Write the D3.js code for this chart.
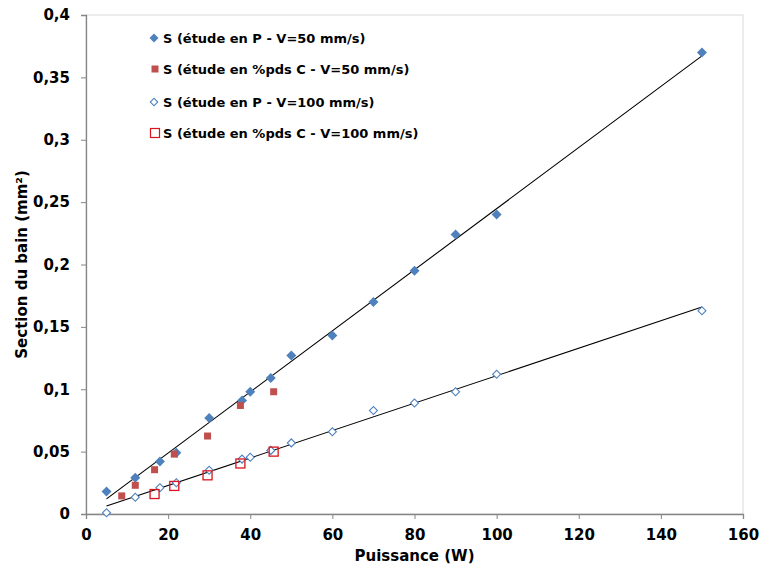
<!DOCTYPE html>
<html>
<head>
<meta charset="utf-8">
<script src="https://cdn.jsdelivr.net/npm/d3@7"></script>
<style>
  html, body { margin: 0; padding: 0; background: #fff; }
  svg { display: block; font-family: "DejaVu Sans", Verdana, sans-serif; font-weight: bold; }
</style>
</head>
<body>
<svg id="chart" width="764" height="574"></svg>
<script>
// ---- Data ----
const seriesNames = [
  "S (étude en P - V=50 mm/s)",
  "S (étude en %pds C - V=50 mm/s)",
  "S (étude en P - V=100 mm/s)",
  "S (étude en %pds C - V=100 mm/s)"
];
const p50P = [5, 12, 18, 22, 30, 38, 40, 45, 50, 60, 70, 80, 90, 100, 150];
const s50P = [0.018, 0.029, 0.042, 0.049, 0.077, 0.091, 0.098, 0.109, 0.127, 0.143, 0.170, 0.195, 0.224, 0.240, 0.370];
const p50C = [8.7, 12, 16.7, 21.5, 29.6, 37.6, 45.7];
const s50C = [0.0145, 0.023, 0.0355, 0.048, 0.0625, 0.087, 0.098];
const p100P = [5, 12, 18, 22, 30, 38, 40, 45, 50, 60, 70, 80, 90, 100, 150];
const s100P = [0.001, 0.0135, 0.021, 0.025, 0.035, 0.044, 0.0455, 0.051, 0.057, 0.066, 0.083, 0.089, 0.098, 0.112, 0.163];
const p100C = [16.7, 21.5, 29.6, 37.6, 45.7];
const s100C = [0.016, 0.0225, 0.031, 0.0405, 0.050];
const xTicks = [0, 20, 40, 60, 80, 100, 120, 140, 160];
const yTicks = [0, 0.05, 0.1, 0.15, 0.2, 0.25, 0.3, 0.35, 0.4];
const xTitle = "Puissance (W)";
const yTitle = "Section du bain (mm²)";

(function () {
// ---- Layout ----
const svg = d3.select("#chart");
const pL = 86, pR = 743, pT = 15, pB = 514;
const x = d3.scaleLinear().domain([0, 160]).range([pL, pR]);
const y = d3.scaleLinear().domain([0, 0.4]).range([pB, pT]);
const blue = "#4f81bd", red = "#c0504d", brightRed = "#d9141c";

// plot area border (light)
svg.append("rect").attr("x", pL).attr("y", pT)
  .attr("width", pR - pL).attr("height", pB - pT)
  .attr("fill", "none").attr("stroke", "#d9d9d9").attr("stroke-width", 1);

const fmt = d => d3.format("")(d).replace(".", ",");

// X axis
const xAxis = svg.append("g").attr("transform", `translate(0,${pB})`)
  .call(d3.axisBottom(x).tickValues(xTicks).tickSize(5).tickPadding(10).tickFormat(fmt));
xAxis.select(".domain").attr("stroke", "#868686").attr("stroke-width", 1.3);
xAxis.selectAll(".tick line").attr("stroke", "#868686");
xAxis.selectAll("text").attr("font-size", 15).attr("font-weight", "bold")
  .attr("font-family", "DejaVu Sans, Verdana, sans-serif").attr("fill", "#000");

// Y axis
const yAxis = svg.append("g").attr("transform", `translate(${pL},0)`)
  .call(d3.axisLeft(y).tickValues(yTicks).tickSize(5).tickPadding(11).tickFormat(fmt));
yAxis.select(".domain").attr("stroke", "#868686").attr("stroke-width", 1.3);
yAxis.selectAll(".tick line").attr("stroke", "#868686");
yAxis.selectAll("text").attr("font-size", 15).attr("font-weight", "bold")
  .attr("font-family", "DejaVu Sans, Verdana, sans-serif").attr("fill", "#000");

// Axis titles
svg.append("text").attr("x", (pL + pR) / 2).attr("y", 561)
  .attr("text-anchor", "middle").attr("font-size", 15).text(xTitle);
svg.append("text").attr("transform", `translate(27,${(pT + pB) / 2}) rotate(-90)`)
  .attr("text-anchor", "middle").attr("font-size", 15).text(yTitle);

// Linear trendlines (least squares on the P-series)
function fit(xs, ys) {
  const mx = d3.mean(xs), my = d3.mean(ys);
  const b = d3.sum(xs, (v, i) => (v - mx) * (ys[i] - my)) / d3.sum(xs, v => (v - mx) ** 2);
  return { a: my - b * mx, b };
}
[[p50P, s50P], [p100P, s100P]].forEach(([xs, ys]) => {
  const f = fit(xs, ys);
  const x0 = d3.min(xs), x1 = d3.max(xs);
  svg.append("line")
    .attr("x1", x(x0)).attr("y1", y(f.a + f.b * x0))
    .attr("x2", x(x1)).attr("y2", y(f.a + f.b * x1))
    .attr("stroke", "#000").attr("stroke-width", 1.1);
});

// Markers
function drawSeries(xs, ys, kind) {
  const g = svg.append("g");
  xs.forEach((xv, i) => {
    const cx = x(xv), cy = y(ys[i]);
    if (kind === 0) {
      g.append("path").attr("d", d3.symbol().type(d3.symbolSquare).size(50)())
        .attr("transform", `translate(${cx},${cy}) rotate(45)`).attr("fill", blue);
    } else if (kind === 1) {
      g.append("rect").attr("x", cx - 3.5).attr("y", cy - 3.5).attr("width", 7).attr("height", 7).attr("fill", red);
    } else if (kind === 2) {
      g.append("path").attr("d", d3.symbol().type(d3.symbolSquare).size(32)())
        .attr("transform", `translate(${cx},${cy}) rotate(45)`)
        .attr("fill", "#fff").attr("stroke", blue).attr("stroke-width", 1.1);
    } else {
      g.append("rect").attr("x", cx - 4.5).attr("y", cy - 4.5).attr("width", 9).attr("height", 9)
        .attr("fill", "none").attr("stroke", brightRed).attr("stroke-width", 1.3);
    }
  });
}
drawSeries(p50P, s50P, 0);
drawSeries(p50C, s50C, 1);
drawSeries(p100P, s100P, 2);
drawSeries(p100C, s100C, 3);

// Legend
const legY = [38, 69, 102, 133];
seriesNames.forEach((name, i) => {
  const mx = 155, my = legY[i];
  if (i === 0) {
    svg.append("path").attr("d", d3.symbol().type(d3.symbolSquare).size(40)())
      .attr("transform", `translate(${mx - 1},${my}) rotate(45)`).attr("fill", blue);
  } else if (i === 1) {
    svg.append("rect").attr("x", mx - 3.5).attr("y", my - 3.5).attr("width", 7).attr("height", 7).attr("fill", red);
  } else if (i === 2) {
    svg.append("path").attr("d", d3.symbol().type(d3.symbolSquare).size(28)())
      .attr("transform", `translate(${mx - 1},${my}) rotate(45)`)
      .attr("fill", "#fff").attr("stroke", blue).attr("stroke-width", 1.1);
  } else {
    svg.append("rect").attr("x", mx - 4.5).attr("y", my - 4.5).attr("width", 9).attr("height", 9)
      .attr("fill", "none").attr("stroke", brightRed).attr("stroke-width", 1.2);
  }
  svg.append("text").attr("x", 163).attr("y", my + 5).attr("font-size", 13).text(name);
});
})();
</script>
</body>
</html>
